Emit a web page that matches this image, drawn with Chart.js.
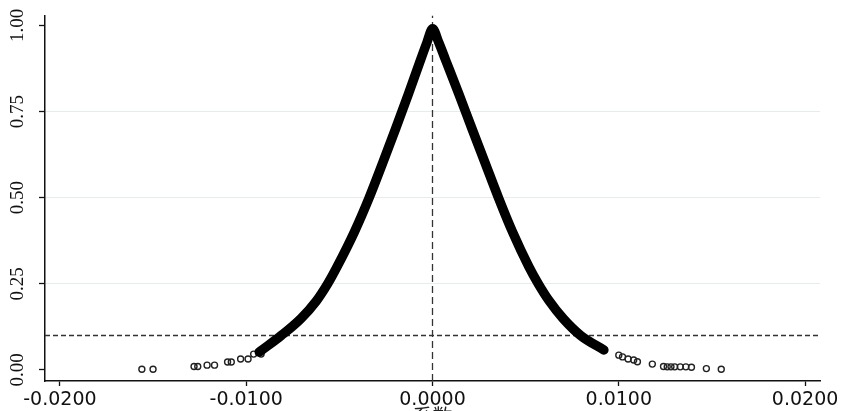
<!DOCTYPE html>
<html><head><meta charset="utf-8">
<script src="https://cdn.jsdelivr.net/npm/chart.js@4/dist/chart.umd.min.js"></script>
<style>html,body{margin:0;padding:0;background:#fff;} #wrap{width:851px;height:411px;position:relative;}</style>
</head><body><div id="wrap"><canvas id="c"></canvas></div>
<script>
// dense band of estimates (left and right of zero)
const curveX = [-0.0093,-0.00910,-0.00812,-0.00705,-0.00624,-0.00563,-0.00512,-0.00420,-0.00340,-0.00268,-0.00198,-0.00130,-0.00064,-0.00030,0.0000,
                0.00034,0.00070,0.00142,0.00212,0.00283,0.00354,0.00430,0.00517,0.00568,0.00627,0.00700,0.00795,0.0092];
const curveY = [0.052,0.060,0.100,0.150,0.200,0.250,0.300,0.400,0.500,0.600,0.700,0.800,0.900,0.950,0.990,
                0.950,0.900,0.800,0.700,0.600,0.500,0.400,0.300,0.250,0.200,0.150,0.100,0.058];
// isolated hollow points in the tails
const tailX = [-0.0156,-0.0150,-0.0128,-0.0126,-0.0121,-0.0117,-0.0110,-0.0108,-0.0103,-0.0099,-0.0096,-0.0092,
               0.0100,0.0102,0.0105,0.0108,0.0110,0.0118,0.0124,0.0126,0.0128,0.0130,0.0133,0.0136,0.0139,0.0147,0.0155];
const tailY = [0.002,0.002,0.010,0.010,0.014,0.014,0.023,0.023,0.032,0.032,0.046,0.046,
               0.043,0.038,0.032,0.029,0.024,0.017,0.010,0.009,0.009,0.009,0.009,0.009,0.008,0.004,0.002];
const xTickValues = [-0.02,-0.01,0,0.01,0.02];
const xTickLabels = ['-0.0200','-0.0100','0.0000','0.0100','0.0200'];
const yTickValues = [0,0.25,0.5,0.75,1];
const yTickLabels = ['0.00','0.25','0.50','0.75','1.00'];
const yGridValues = [0.25,0.5,0.75];
const refY = 0.1;
const refX = 0;
const xRange = [-0.0208, 0.0208];
const yRange = [-0.032, 1.029];
const xTitle = '系数';

const curvePts = curveX.map((x,i)=>({x:x,y:curveY[i]}));
const tailPts = tailX.map((x,i)=>({x:x,y:tailY[i]}));

new Chart(document.getElementById('c'), {
  type: 'scatter',
  data: {
    datasets: [
      { data: curvePts, showLine: true, borderColor: '#000', borderWidth: 9.5, pointRadius: 0,
        cubicInterpolationMode: 'monotone', borderCapStyle: 'round', borderJoinStyle: 'round', order: 0 },
      { data: tailPts, showLine: false, pointRadius: 3, pointBorderWidth: 1.4,
        pointBorderColor: '#222', pointBackgroundColor: 'rgba(255,255,255,0)', order: 1 },
      { data: [{x:xRange[0],y:refY},{x:xRange[1],y:refY}], showLine: true, borderColor: '#333',
        borderWidth: 1.3, borderDash: [5,3], pointRadius: 0, order: 2 },
      { data: [{x:refX,y:yRange[0]},{x:refX,y:yRange[1]}], showLine: true, borderColor: '#333',
        borderWidth: 1.3, borderDash: [7,4], pointRadius: 0, order: 3 }
    ]
  },
  options: {
    responsive: true, maintainAspectRatio: false, animation: false,
    layout: { padding: { left: 0, right: 31, top: 14, bottom: -17 } },
    plugins: { legend: { display: false }, tooltip: { enabled: false } },
    scales: {
      x: {
        type: 'linear', min: xRange[0], max: xRange[1],
        afterBuildTicks: s => { s.ticks = xTickValues.map(v => ({ value: v })); },
        afterFit: s => { s.height = 47; },
        ticks: { autoSkip: false, maxRotation: 0, padding: 3, color: '#111',
          font: { family: 'DejaVu Sans', size: 19 },
          callback: v => xTickLabels[xTickValues.indexOf(v)] },
        grid: { drawOnChartArea: false, tickLength: 5, tickColor: '#111', tickWidth: 1.3 },
        border: { color: '#111', width: 1.5 },
        title: { display: true, text: xTitle, color: '#222', padding: { top: 0, bottom: 0 },
          font: { family: 'Noto Sans CJK SC', size: 20 } }
      },
      y: {
        type: 'linear', min: yRange[0], max: yRange[1],
        afterBuildTicks: s => { s.ticks = yTickValues.map(v => ({ value: v })); },
        afterFit: s => { s.width = 45; },
        ticks: { minRotation: 90, maxRotation: 90, crossAlign: 'center', padding: 4, color: '#111',
          font: { family: 'Liberation Serif', size: 19 },
          callback: v => yTickLabels[yTickValues.indexOf(v)] },
        grid: { color: c => (c.tick && yGridValues.includes(c.tick.value)) ? '#e4ecec' : 'rgba(0,0,0,0)',
          tickColor: '#111', tickLength: 6, tickWidth: 1.3 },
        border: { color: '#111', width: 1.5 }
      }
    }
  }
});
</script></body></html>
